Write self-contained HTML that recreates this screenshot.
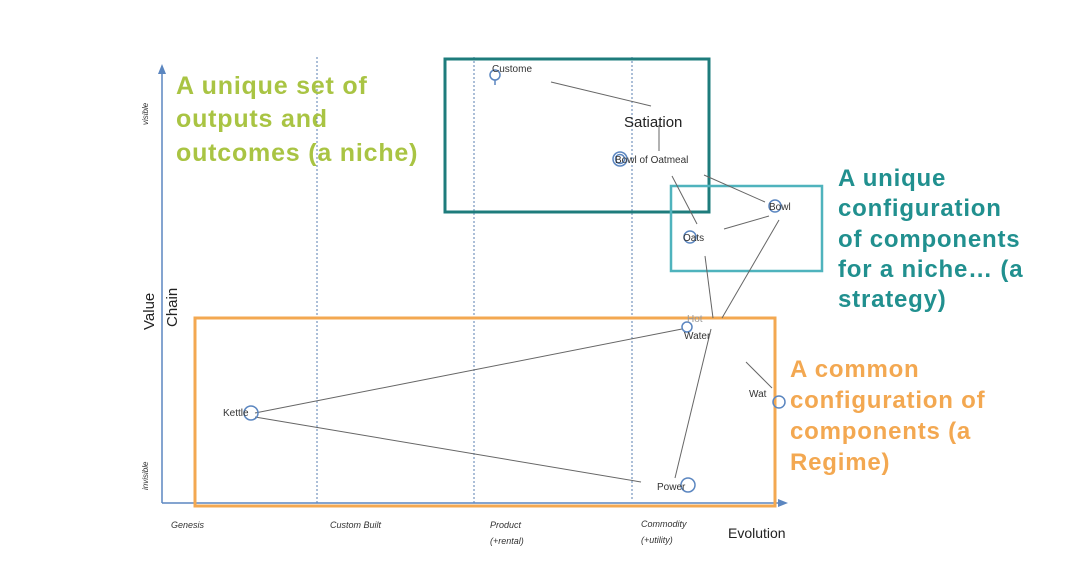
<!DOCTYPE html>
<html><head><meta charset="utf-8"><style>
html,body{margin:0;padding:0;background:#fff;}
svg{display:block;font-family:"Liberation Sans",sans-serif;}
</style></head><body>
<svg width="1080" height="587" viewBox="0 0 1080 587" xmlns="http://www.w3.org/2000/svg">
<rect width="1080" height="587" fill="#fff"/>
<g stroke="#5a7fb0" stroke-width="1" stroke-dasharray="2,2">
<line x1="317" y1="57" x2="317" y2="503"/>
<line x1="474" y1="57" x2="474" y2="503"/>
<line x1="632" y1="57" x2="632" y2="500"/>
</g>
<line x1="162" y1="503" x2="162" y2="72" stroke="#5b86c0" stroke-width="1.5"/>
<polygon points="162,64 158,74 166,74" fill="#5b86c0"/>
<line x1="162" y1="503" x2="780" y2="503" stroke="#5b86c0" stroke-width="1.5"/>
<polygon points="788,503 778,499 778,507" fill="#5b86c0"/>
<rect x="445" y="59" width="264" height="153" fill="none" stroke="#1e7c7c" stroke-width="3"/>
<rect x="671" y="186" width="151" height="85" fill="none" stroke="#4fb3bd" stroke-width="2.5"/>
<rect x="195" y="318" width="580" height="188" fill="none" stroke="#f3a851" stroke-width="3"/>
<g stroke="#666" stroke-width="1" fill="none">
<line x1="551" y1="82" x2="651" y2="106"/>
<line x1="659" y1="125" x2="659" y2="151"/>
<line x1="672" y1="176" x2="697" y2="224"/>
<line x1="704" y1="175" x2="765" y2="202"/>
<line x1="724" y1="229" x2="769" y2="216"/>
<line x1="705" y1="256" x2="713" y2="318"/>
<line x1="779" y1="220" x2="722" y2="318"/>
<line x1="255" y1="413" x2="682" y2="329"/>
<line x1="255" y1="417" x2="641" y2="482"/>
<line x1="711" y1="329" x2="675" y2="478"/>
<line x1="746" y1="362" x2="772" y2="388"/>
</g>
<g fill="none" stroke="#5b86c0" stroke-width="1.5">
<circle cx="495" cy="75" r="5"/><line x1="495" y1="80" x2="495" y2="85"/>
<circle cx="620" cy="159" r="7"/><circle cx="620" cy="159" r="4.5"/>
<circle cx="690" cy="237" r="6"/>
<circle cx="775" cy="206" r="6"/>
<circle cx="687" cy="327" r="5"/>
<circle cx="251" cy="413" r="7"/>
<circle cx="688" cy="485" r="7"/>
<circle cx="779" cy="402" r="6"/>
</g>
<g font-size="10" fill="#333">
<text x="492" y="72">Custome</text>
<text x="615" y="163">Bowl of Oatmeal</text>
<text x="683" y="241">Oats</text>
<text x="769" y="210">Bowl</text>
<text x="687" y="322" fill="#999">Hot</text>
<text x="684" y="339">Water</text>
<text x="223" y="416">Kettle</text>
<text x="657" y="490">Power</text>
<text x="749" y="397">Wat</text>
</g>
<text x="624" y="127" font-size="15" fill="#222">Satiation</text>
<g font-style="italic" font-size="9" fill="#333">
<text x="171" y="528">Genesis</text>
<text x="330" y="528">Custom Built</text>
<text x="490" y="528">Product</text>
<text x="490" y="544">(+rental)</text>
<text x="641" y="527">Commodity</text>
<text x="641" y="543">(+utility)</text>
<text transform="translate(148,125) rotate(-90)" font-size="8">visible</text>
<text transform="translate(148,490) rotate(-90)" font-size="8">invisible</text>
</g>
<text x="728" y="538" font-size="14" fill="#222">Evolution</text>
<text transform="translate(154,330) rotate(-90)" font-size="15" fill="#222">Value</text>
<text transform="translate(177,327) rotate(-90)" font-size="15" fill="#222">Chain</text>
<g font-weight="bold" font-size="25" letter-spacing="0.8" fill="#a9c443">
<text x="176" y="94">A unique set of</text>
<text x="176" y="127">outputs and</text>
<text x="176" y="161">outcomes (a niche)</text>
</g>
<g font-weight="bold" font-size="24" letter-spacing="0.8" fill="#21908f">
<text x="838" y="186">A unique</text>
<text x="838" y="216">configuration</text>
<text x="838" y="247">of components</text>
<text x="838" y="277">for a niche… (a</text>
<text x="838" y="307">strategy)</text>
</g>
<g font-weight="bold" font-size="24" letter-spacing="0.8" fill="#f3a851">
<text x="790" y="377">A common</text>
<text x="790" y="408">configuration of</text>
<text x="790" y="439">components (a</text>
<text x="790" y="470">Regime)</text>
</g>
</svg>
</body></html>
